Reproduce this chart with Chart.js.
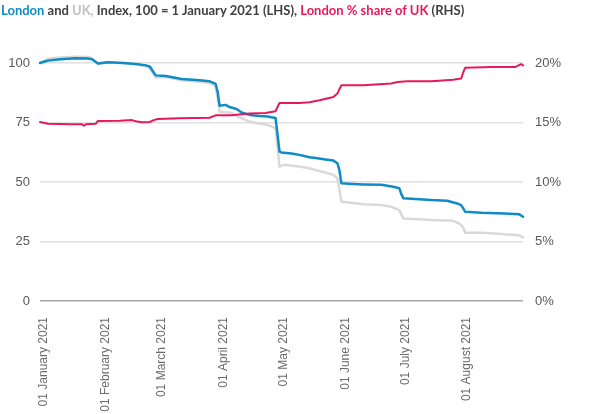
<!DOCTYPE html>
<html>
<head>
<meta charset="utf-8">
<script src="https://cdn.jsdelivr.net/npm/chart.js@4.4.1/dist/chart.umd.min.js"></script>
<style>
    body { margin: 0; background: #fff; }
    #wrap { position: relative; width: 615px; height: 414px; }
    #title { position: absolute; left: 1px; top: 2px; font: bold 13px Lato, sans-serif; color: #404040; white-space: nowrap; }
    #title .ldn { color: #0f8bc6; }
    #title .uk { color: #bfbfbf; }
    #title .shr { color: #e6195a; }
    canvas { position: absolute; left: 0; top: 0; }
</style>
</head>
<body>
<div id="wrap">
    <canvas id="chart" width="615" height="414"></canvas>
    <div id="title"><span class="ldn">London</span> and <span class="uk">UK,</span> Index, 100 = 1 January 2021 (LHS), <span class="shr">London % share of UK</span> (RHS)</div>
</div>
<script>
(function () {
    "use strict";

    // x = days since 01 January 2021
    var monthStartDays = [0, 31, 59, 90, 120, 151, 181, 212];
    var monthLabels = ["01 January 2021", "01 February 2021", "01 March 2021", "01 April 2021",
        "01 May 2021", "01 June 2021", "01 July 2021", "01 August 2021"];

    // London index (LHS)
    var londonDays = [0, 2, 4, 9, 14, 18, 24, 26, 28, 29, 31, 34, 42, 49, 53, 55, 57, 58, 63, 71, 80, 85, 88, 89, 90,
        93, 95, 98, 99, 101, 105, 110, 114, 118, 119, 120, 121, 126, 130, 135, 139, 143, 147, 149, 150, 151,
        157, 162, 171, 177, 180, 181, 182, 190, 196, 204, 209, 211, 212, 213, 221, 233, 240, 242];
    var londonIndex = [100, 100.5, 101, 101.5, 101.8, 102, 101.9, 101.6, 100.4, 99.8, 100, 100.3, 100, 99.5, 99, 98.5, 96, 94.8, 94.5, 93.3, 92.8, 92.3, 91.2, 88, 82,
        82.4, 81.5, 80.8, 80.4, 79.2, 78.2, 77.7, 77.5, 76.9, 70, 62.8, 62.4, 62, 61.4, 60.4, 60, 59.5, 59, 57.9, 55, 49.5,
        49.2, 49, 48.8, 48, 47.4, 45, 43.2, 42.8, 42.4, 42.1, 41, 40.3, 39, 37.5, 37.1, 36.8, 36.5, 35.4];

    // UK index (LHS)
    var ukDays = [0, 4, 10, 18, 24, 26, 28, 29, 34, 42, 48, 50, 53, 55, 57, 58, 63, 71, 80, 85, 88, 89, 90,
        96, 99, 105, 110, 114, 118, 119, 120, 122, 130, 135, 139, 143, 147, 149, 150, 151,
        157, 162, 171, 176, 180, 181, 182, 190, 196, 207, 210, 212, 213, 221, 228, 233, 240, 242];
    var ukIndex = [100, 101.8, 102.3, 102.6, 102.5, 102, 100.5, 99.6, 100.2, 99.9, 99.6, 99.2, 98.7, 98, 95, 93.9, 94.1, 92.7, 92.1, 91.6, 90.5, 85, 79.6,
        79, 77.5, 75.4, 74.5, 74, 72.6, 65, 56.5, 57.2, 56.5, 55.8, 54.8, 54, 53, 51.6, 47, 41.7,
        41.2, 40.7, 40.3, 39.6, 38.2, 36.5, 34.7, 34.3, 34, 33.7, 32.6, 31, 28.7, 28.7, 28.4, 28, 27.6, 26.7];

    // London % share of UK (RHS)
    var shareDays = [0, 4, 15, 21, 22, 23, 28, 29, 40, 46, 48, 51, 55, 57, 59, 70, 85, 88, 96, 105, 113, 118, 119, 120,
        130, 135, 140, 147, 149, 150, 151, 162, 176, 179, 184, 196, 207, 211, 212, 213, 226, 238, 241, 242];
    var shareValues = [15.04, 14.9, 14.85, 14.85, 14.72, 14.85, 14.9, 15.13, 15.15, 15.2, 15.1, 15.02, 15.04, 15.2, 15.3, 15.35, 15.4, 15.6, 15.6, 15.75, 15.8, 15.95, 16.3, 16.64,
        16.64, 16.7, 16.87, 17.14, 17.43, 17.8, 18.13, 18.13, 18.27, 18.4, 18.46, 18.46, 18.6, 18.69, 19.2, 19.6, 19.66, 19.66, 19.9, 19.8];

    function points(days, values) {
        var out = [];
        for (var i = 0; i < days.length; i++)
            out.push({x: days[i], y: values[i]});
        return out;
    }

    var xFont = {family: "'Liberation Sans', Arial, sans-serif", size: 12};
    var yFont = {family: "'Liberation Sans', Arial, sans-serif", size: 13};

    var ctx = document.getElementById("chart").getContext("2d");
    new Chart(ctx, {
        type: "line",
        data: {
            datasets: [
                {label: "London % share of UK", data: points(shareDays, shareValues), yAxisID: "y1",
                    borderColor: "#e6195a", borderWidth: 2, order: 0},
                {label: "London", data: points(londonDays, londonIndex), yAxisID: "y",
                    borderColor: "#0f8bc6", borderWidth: 2.5, order: 1},
                {label: "UK", data: points(ukDays, ukIndex), yAxisID: "y",
                    borderColor: "#d9d9d9", borderWidth: 2.5, order: 2}
            ]
        },
        options: {
            responsive: false,
            animation: false,
            events: [],
            clip: false,
            elements: {
                point: {radius: 0},
                line: {tension: 0, borderCapStyle: "round", borderJoinStyle: "round"}
            },
            layout: {padding: {top: 63, left: 0, right: 0, bottom: 0}},
            plugins: {legend: {display: false}, title: {display: false}, tooltip: {enabled: false}},
            scales: {
                x: {
                    type: "linear",
                    min: 0,
                    max: 242,
                    grid: {display: false},
                    border: {display: false},
                    afterBuildTicks: function (axis) {
                        axis.ticks = monthStartDays.map(function (d) { return {value: d}; });
                    },
                    afterFit: function (axis) { axis.height = 113; },
                    ticks: {
                        autoSkip: false,
                        minRotation: 90,
                        maxRotation: 90,
                        padding: 8,
                        labelOffset: 4,
                        color: "#6b6b6b",
                        font: xFont,
                        callback: function (value) {
                            return monthLabels[monthStartDays.indexOf(value)];
                        }
                    }
                },
                y: {
                    position: "left",
                    min: 0,
                    max: 100,
                    border: {display: false},
                    afterFit: function (axis) { axis.width = 40; },
                    grid: {
                        drawTicks: false,
                        lineWidth: 1.5,
                        color: function (c) { return c.tick && c.tick.value === 0 ? "#a6a6a6" : "#e0e0e0"; }
                    },
                    ticks: {stepSize: 25, padding: 10, color: "#595959", font: yFont}
                },
                y1: {
                    position: "right",
                    min: 0,
                    max: 20,
                    border: {display: false},
                    afterFit: function (axis) { axis.width = 92; },
                    grid: {drawOnChartArea: false, drawTicks: false},
                    ticks: {
                        stepSize: 5, padding: 12, color: "#595959", font: yFont,
                        callback: function (v) { return v + "%"; }
                    }
                }
            }
        }
    });
}());
</script>
</body>
</html>
